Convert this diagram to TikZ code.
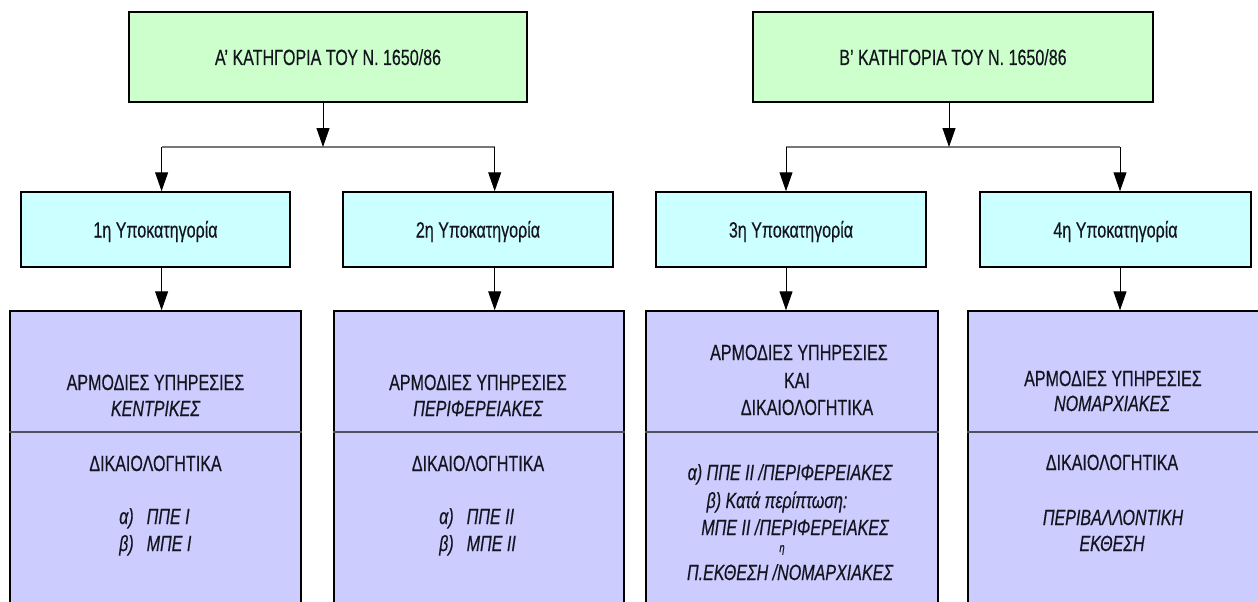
\documentclass[tikz,border=0pt]{standalone}
\usepackage{fontspec}
\setmainfont[FakeStretch=0.73,FakeBold=0.4]{Liberation Sans}
\usetikzlibrary{arrows.meta}
\definecolor{catgreen}{RGB}{204,255,204}
\definecolor{subcyan}{RGB}{204,255,255}
\definecolor{svclav}{RGB}{204,204,255}
\definecolor{branchgray}{RGB}{120,120,120}
\definecolor{divgray}{RGB}{80,80,90}
\definecolor{inktext}{RGB}{20,20,30}

\begin{document}
\begin{tikzpicture}[x=1pt,y=-1pt,
  box/.style={draw=black,line width=1.5pt,rectangle,inner sep=0pt,text=inktext,
    text height=16pt,text depth=0pt,font=\fontsize{22}{26}\selectfont},
  catbox/.style={box,fill=catgreen,minimum height=90pt},
  subbox/.style={box,fill=subcyan,minimum height=75pt},
  svcbox/.style={draw=black,line width=1.5pt,fill=svclav,rectangle,inner sep=0pt,minimum height=330pt},
  conn/.style={line width=1pt,-{Triangle[length=19pt,width=13pt]}},
  branch/.style={line width=1.3pt,draw=branchgray},
  divline/.style={line width=1.5pt,draw=divgray},
  ln/.style={inner sep=0pt,text=inktext,text height=16pt,text depth=0pt,font=\fontsize{22}{26}\selectfont},
  lnit/.style={ln,font=\fontsize{22}{26}\selectfont\itshape},
  lnsmall/.style={inner sep=0pt,text=inktext,font=\fontsize{13}{15}\selectfont\itshape}
]
\useasboundingbox (0,0) rectangle (1258,602);

% main categories
\node[catbox,minimum width=398pt] (catA) at (328,57) {Α' ΚΑΤΗΓΟΡΙΑ ΤΟΥ Ν. 1650/86};
\node[catbox,minimum width=400pt] (catB) at (953,57) {Β' ΚΑΤΗΓΟΡΙΑ ΤΟΥ Ν. 1650/86};

% subcategories
\node[subbox,minimum width=269pt] (s1) at (155.5,229.5) {1η Υποκατηγορία};
\node[subbox,minimum width=270pt] (s2) at (478,229.5) {2η Υποκατηγορία};
\node[subbox,minimum width=270pt] (s3) at (791,229.5) {3η Υποκατηγορία};
\node[subbox,minimum width=271pt] (s4) at (1115.5,229.5) {4η Υποκατηγορία};

% competent services / documents panels
\node[svcbox,minimum width=291pt] (d1) at (155.5,476) {};
\node[svcbox,minimum width=290pt] (d2) at (479,476) {};
\node[svcbox,minimum width=292pt] (d3) at (792,476) {};
\node[svcbox,minimum width=296pt] (d4) at (1116,476) {};

% panel dividers
\coordinate (divy) at (0,432);
\draw[divline] (d1.west |- divy) -- (d1.east |- divy);
\draw[divline] (d2.west |- divy) -- (d2.east |- divy);
\draw[divline] (d3.west |- divy) -- (d3.east |- divy);
\draw[divline] (d4.west |- divy) -- (d4.east |- divy);

% branching points
\coordinate (jA) at (323,147);
\coordinate (bA1) at (161.6,147);
\coordinate (bA2) at (494.7,147);
\coordinate (jB) at (949,147);
\coordinate (bB1) at (786,147);
\coordinate (bB2) at (1120,147);

\draw[branch] (bA1) -- (bA2);
\draw[branch] (bB1) -- (bB2);
\draw[conn] (catA.south -| jA) -- (jA);
\draw[conn] (catB.south -| jB) -- (jB);

\draw[conn] (bA1) -- (bA1 |- s1.north);
\draw[conn] (bA2) -- (bA2 |- s2.north);
\draw[conn] (bB1) -- (bB1 |- s3.north);
\draw[conn] (bB2) -- (bB2 |- s4.north);

\draw[conn] (bA1 |- s1.south) -- (bA1 |- d1.north);
\draw[conn] (bA2 |- s2.south) -- (bA2 |- d2.north);
\draw[conn] (bB1 |- s3.south) -- (bB1 |- d3.north);
\draw[conn] (bB2 |- s4.south) -- (bB2 |- d4.north);

% panel 1
\node[ln] (p1a) at (155.5,382) {ΑΡΜΟΔΙΕΣ ΥΠΗΡΕΣΙΕΣ};
\node[lnit] (p1b) at (155.5,408) {ΚΕΝΤΡΙΚΕΣ};
\node[ln] (p1c) at (155.5,463) {ΔΙΚΑΙΟΛΟΓΗΤΙΚΑ};
\node[lnit,anchor=west] (p1d) at (119,516) {α)\hspace{13pt}ΠΠΕ Ι};
\node[lnit,anchor=west] (p1e) at (119,543) {β)\hspace{13pt}ΜΠΕ Ι};

% panel 2
\node[ln] (p2a) at (478,382) {ΑΡΜΟΔΙΕΣ ΥΠΗΡΕΣΙΕΣ};
\node[lnit] (p2b) at (478,408) {ΠΕΡΙΦΕΡΕΙΑΚΕΣ};
\node[ln] (p2c) at (478,463) {ΔΙΚΑΙΟΛΟΓΗΤΙΚΑ};
\node[lnit,anchor=west] (p2d) at (439,516) {α)\hspace{13pt}ΠΠΕ ΙΙ};
\node[lnit,anchor=west] (p2e) at (439,543) {β)\hspace{13pt}ΜΠΕ ΙΙ};

% panel 3
\node[ln] (p3a) at (799,352) {ΑΡΜΟΔΙΕΣ ΥΠΗΡΕΣΙΕΣ};
\node[ln] (p3b) at (797,380) {ΚΑΙ};
\node[ln] (p3c) at (807,407) {ΔΙΚΑΙΟΛΟΓΗΤΙΚΑ};
\node[lnit] (p3d) at (790,472) {α) ΠΠΕ ΙΙ /ΠΕΡΙΦΕΡΕΙΑΚΕΣ};
\node[lnit] (p3e) at (777,500) {β) Κατά περίπτωση:};
\node[lnit] (p3f) at (795,527) {ΜΠΕ ΙΙ /ΠΕΡΙΦΕΡΕΙΑΚΕΣ};
\node[lnsmall] (p3g) at (782,550) {η};
\node[lnit] (p3h) at (790,572) {Π.ΕΚΘΕΣΗ /ΝΟΜΑΡΧΙΑΚΕΣ};

% panel 4
\node[ln] (p4a) at (1113,378) {ΑΡΜΟΔΙΕΣ ΥΠΗΡΕΣΙΕΣ};
\node[lnit] (p4b) at (1112,403) {ΝΟΜΑΡΧΙΑΚΕΣ};
\node[ln] (p4c) at (1112,462) {ΔΙΚΑΙΟΛΟΓΗΤΙΚΑ};
\node[lnit] (p4d) at (1113,517) {ΠΕΡΙΒΑΛΛΟΝΤΙΚΗ};
\node[lnit] (p4e) at (1112,543) {ΕΚΘΕΣΗ};
\end{tikzpicture}
\end{document}
